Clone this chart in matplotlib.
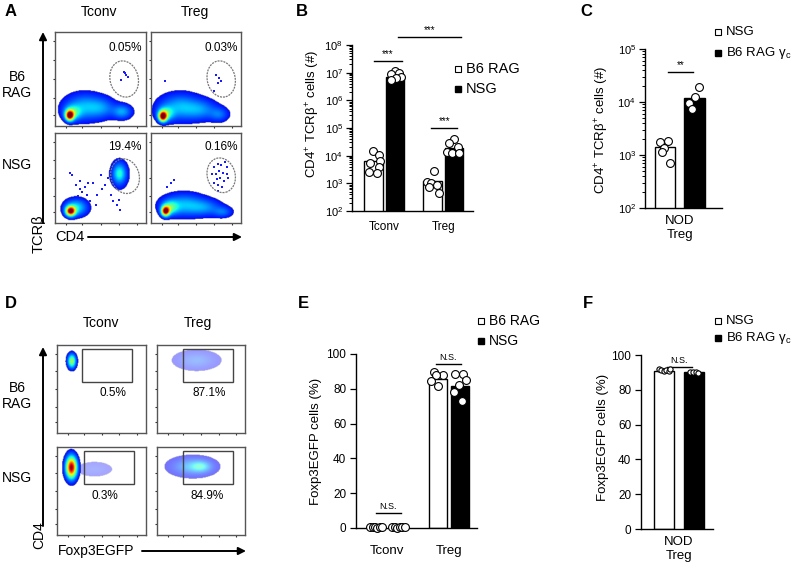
import numpy as np
import matplotlib
matplotlib.use("Agg")
import matplotlib.pyplot as plt
from matplotlib.patches import Ellipse, Rectangle
from matplotlib.ticker import LogLocator, NullFormatter, FuncFormatter

plt.rcParams["font.family"] = ["Liberation Sans", "DejaVu Sans"]
plt.rcParams["mathtext.fontset"] = "custom"
plt.rcParams["mathtext.rm"] = "Liberation Sans"
plt.rcParams["mathtext.it"] = "Liberation Sans:italic"
plt.rcParams["mathtext.bf"] = "Liberation Sans:bold"

# ---------------- data ----------------
# flow plots: populations as (x, y, sx, sy, weight) in relative plot units
A_RAG_TCONV = [(0.16, 0.11, 0.03, 0.035, 1.0), (0.19, 0.14, 0.06, 0.05, 0.3),
               (0.32, 0.20, 0.14, 0.09, 0.22), (0.52, 0.19, 0.10, 0.07, 0.13),
               (0.74, 0.15, 0.07, 0.05, 0.2)]
A_RAG_TREG = [(0.13, 0.10, 0.03, 0.035, 1.0), (0.16, 0.13, 0.06, 0.05, 0.3),
              (0.32, 0.20, 0.15, 0.09, 0.22), (0.56, 0.17, 0.12, 0.07, 0.15),
              (0.76, 0.12, 0.07, 0.05, 0.13)]
A_NSG_TCONV = [(0.17, 0.13, 0.035, 0.035, 1.0), (0.23, 0.17, 0.08, 0.06, 0.28),
               (0.71, 0.55, 0.045, 0.07, 0.25), (0.71, 0.54, 0.07, 0.11, 0.08)]
A_NSG_TREG = [(0.16, 0.13, 0.03, 0.035, 1.0), (0.21, 0.17, 0.06, 0.05, 0.3),
              (0.36, 0.20, 0.15, 0.08, 0.22), (0.60, 0.17, 0.12, 0.06, 0.15),
              (0.80, 0.12, 0.07, 0.04, 0.13)]
A_RAG_TCONV_EVENTS = [(0.77, 0.56), (0.78, 0.54), (0.73, 0.49), (0.80, 0.52), (0.76, 0.57)]
A_RAG_TREG_EVENTS = [(0.72, 0.54), (0.76, 0.51), (0.78, 0.48), (0.74, 0.46),
                     (0.70, 0.37), (0.16, 0.48)]
A_NSG_TCONV_EVENTS = [(0.30, 0.35), (0.35, 0.31), (0.23, 0.42), (0.42, 0.45), (0.50, 0.53),
                      (0.68, 0.20), (0.71, 0.15), (0.62, 0.31), (0.19, 0.53), (0.39, 0.24),
                      (0.46, 0.31), (0.28, 0.47), (0.55, 0.42), (0.17, 0.56), (0.58, 0.50),
                      (0.52, 0.38), (0.33, 0.40), (0.25, 0.30), (0.45, 0.20), (0.64, 0.25),
                      (0.66, 0.40), (0.60, 0.58), (0.70, 0.26), (0.36, 0.44), (0.27, 0.38)]
A_NSG_TREG_EVENTS = [(0.70, 0.62), (0.74, 0.66), (0.78, 0.64), (0.82, 0.68), (0.85, 0.62),
                     (0.72, 0.55), (0.76, 0.58), (0.80, 0.56), (0.84, 0.55), (0.73, 0.49),
                     (0.77, 0.50), (0.81, 0.47), (0.70, 0.45), (0.75, 0.42), (0.79, 0.40),
                     (0.68, 0.55), (0.86, 0.50), (0.74, 0.36), (0.22, 0.45), (0.26, 0.48),
                     (0.18, 0.40)]
A_PCT = ["0.05%", "0.03%", "19.4%", "0.16%"]

D_RAG_TCONV = [(0.165, 0.81, 0.03, 0.05, 0.5)]
D_RAG_TREG = [(0.45, 0.82, 0.14, 0.06, 0.12)]
D_NSG_TCONV = [(0.16, 0.77, 0.04, 0.08, 1.0)]
D_NSG_TCONV_FAINT = [(0.42, 0.75, 0.12, 0.05, 0.06)]
D_NSG_TREG = [(0.40, 0.78, 0.14, 0.06, 0.2), (0.50, 0.78, 0.07, 0.04, 0.2)]
D_PCT = ["0.5%", "87.1%", "0.3%", "84.9%"]

# B: CD4+ TCRb+ cells (#)
groups_b = ["Tconv", "Treg"]
b_rag_mean = [6500, 1200]
b_nsg_mean = [6.8e6, 1.9e4]
b_tconv_rag = [15100, 10500, 6600, 5250, 3800, 2630, 2290]
b_tconv_nsg = [1.17e7, 1.0e7, 8.9e6, 7.2e6, 6.3e6, 5.4e6]
b_treg_rag = [2880, 1150, 1050, 870, 760, 440]
b_treg_nsg = [38900, 29500, 21400, 13800, 12900, 12000]
jit_b_tconv_rag = [0.0, 0.09, 0.11, -0.06, 0.10, -0.07, 0.06]
jit_b_tconv_nsg = [0.0, 0.08, -0.06, 0.11, 0.03, -0.07]
jit_b_treg_rag = [0.02, -0.09, -0.02, 0.07, -0.06, 0.10]
jit_b_treg_nsg = [0.0, -0.08, 0.06, -0.11, -0.03, 0.08]

# C: NOD Treg counts
c_mean = [1400, 1.2e4]
c_nsg = [1740, 1860, 1380, 1120, 710]
c_b6gc = [19500, 12300, 9550, 7400]
jit_c_nsg = [-0.075, 0.047, -0.008, -0.042, 0.09]
jit_c_b6gc = [0.08, 0.0, -0.087, -0.036]

# E: Foxp3EGFP cells (%)
groups_e = ["Tconv", "Treg"]
e_rag_mean = [0.4, 85.8]
e_nsg_mean = [0.4, 81.4]
e_tconv_rag = [0.4, 0.3, 0.5, 0.2, 0.6, 0.3]
e_tconv_nsg = [0.3, 0.5, 0.2, 0.4, 0.3, 0.6]
e_treg_rag = [89.7, 88.1, 87.7, 84.3, 81.4]
e_treg_nsg = [88.5, 88.5, 85.2, 82.4, 78.2, 72.8]
jit_e_tconv = [-0.1, -0.06, -0.02, 0.02, 0.06, 0.1]
jit_e_treg_rag = [-0.06, 0.08, -0.02, -0.11, 0.005]
jit_e_treg_nsg = [-0.08, 0.06, 0.10, -0.02, -0.10, 0.035]

# F: NOD Treg Foxp3EGFP (%)
f_mean = [91.0, 90.1]
f_nsg = [92.2, 91.5, 91.0, 91.4, 90.8, 91.9]
f_b6gc = [90.5, 90.1, 90.3, 89.9]
jit_f_nsg = [-0.08, -0.04, 0.0, 0.04, 0.08, 0.1]
jit_f_b6gc = [-0.06, -0.02, 0.03, 0.07]

# ---------------- layout helpers ----------------
W, H = 798, 568
fig = plt.figure(figsize=(W / 100, H / 100), dpi=100)


def px_axes(x0, y0, x1, y1):
    return fig.add_axes([x0 / W, 1 - y1 / H, (x1 - x0) / W, (y1 - y0) / H])


def density(comps, n=150):
    g = np.linspace(0, 1, n)
    X, Y = np.meshgrid(g, g)
    Z = np.zeros_like(X)
    for cx, cy, sx, sy, w in comps:
        Z += w * np.exp(-0.5 * (((X - cx) / sx) ** 2 + ((Y - cy) / sy) ** 2))
    return Z


def show_density(ax, comps, thr, alpha):
    Z = np.ma.masked_less(density(comps), thr)
    ax.imshow(Z, extent=(0, 1, 0, 1), origin="lower", cmap="jet", vmin=-0.12, vmax=1,
              interpolation="bilinear", aspect="auto", alpha=alpha)


def flow_plot(box, comps, events, gate, pct, pct_xy, thr=0.03, alpha=1.0, faint=None):
    ax = px_axes(*box)
    if faint:
        show_density(ax, faint, 0.015, 0.35)
    show_density(ax, comps, thr, alpha)
    if events:
        ex, ey = zip(*events)
        ax.scatter(ex, ey, s=3, marker="s", color="#1a1aff", lw=0)
    ax.add_patch(gate)
    ax.text(pct_xy[0], pct_xy[1], pct, ha="center", va="center", fontsize=8.5)
    ax.set_xlim(0, 1)
    ax.set_ylim(0, 1)
    ax.set_xticks([0.12, 0.3, 0.5, 0.7, 0.9])
    ax.set_yticks([0.12, 0.3, 0.5, 0.7, 0.9])
    ax.set_xticklabels([])
    ax.set_yticklabels([])
    ax.tick_params(length=1.5, width=0.8, color="#333")
    for s in ax.spines.values():
        s.set_color("#555")
        s.set_linewidth(1.0)
    return ax


def ell(cx, cy):
    return Ellipse((cx, cy), 0.31, 0.39, angle=15, fill=False, ec="#777",
                   lw=0.9, ls=(0, (1.6, 0.8)))


def rect(x0, x1, y0=0.58, y1=0.955):
    return Rectangle((x0, y0), x1 - x0, y1 - y0, fill=False, ec="#444", lw=1.0)


# ---------------- panel A ----------------
flow_plot((55, 32, 146, 126), A_RAG_TCONV, A_RAG_TCONV_EVENTS, ell(0.76, 0.50), A_PCT[0], (0.77, 0.83))
flow_plot((151, 32, 241, 126), A_RAG_TREG, A_RAG_TREG_EVENTS, ell(0.78, 0.50), A_PCT[1], (0.78, 0.83))
flow_plot((55, 133, 146, 223), A_NSG_TCONV, A_NSG_TCONV_EVENTS, ell(0.77, 0.52), A_PCT[2], (0.77, 0.84))
flow_plot((151, 133, 241, 223), A_NSG_TREG, A_NSG_TREG_EVENTS, ell(0.78, 0.53), A_PCT[3], (0.78, 0.84))

# ---------------- panel D ----------------
flow_plot((57, 345, 146, 433), D_RAG_TCONV, None, rect(0.285, 0.84), D_PCT[0], (0.63, 0.46), thr=0.03)
flow_plot((157, 345, 245, 433), D_RAG_TREG, None, rect(0.30, 0.86), D_PCT[1], (0.59, 0.46),
          thr=0.015, alpha=0.4)
flow_plot((57, 447, 146, 535), D_NSG_TCONV, None, rect(0.30, 0.86), D_PCT[2], (0.54, 0.44),
          thr=0.03, faint=D_NSG_TCONV_FAINT)
flow_plot((157, 447, 245, 535), D_NSG_TREG, None, rect(0.29, 0.86), D_PCT[3], (0.57, 0.44),
          thr=0.015, alpha=0.55)


# ---------------- bar panels ----------------
def style_bar_axes(ax):
    for s in ("top", "right"):
        ax.spines[s].set_visible(False)
    for s in ("left", "bottom"):
        ax.spines[s].set_linewidth(1.0)
    ax.tick_params(axis="x", length=0, labelsize=8.5)
    ax.tick_params(axis="y", which="major", length=4, width=0.9, labelsize=8, pad=2.5)
    ax.tick_params(axis="y", which="minor", length=2.5, width=0.7)


def dots(ax, x0, vals, jit, s=32):
    ax.scatter([x0 + j for j in jit], vals, s=s, facecolor="white", edgecolor="black",
               lw=0.8, zorder=3, clip_on=False)


def sig(ax, x0, x1, y, label, fs=7, dy=0):
    ax.plot([x0, x1], [y, y], color="black", lw=1.0, clip_on=False)
    ax.annotate(label, ((x0 + x1) / 2, y), xytext=(0, 1.5 + dy), textcoords="offset points",
                ha="center", va="bottom", fontsize=fs, annotation_clip=False)


log_fmt = FuncFormatter(lambda v, p: r"$10^{%d}$" % round(np.log10(v)))

# B
axb = px_axes(352, 45, 473, 211)
xb = np.arange(len(groups_b))
off, bw = 0.18, 0.31
axb.bar(xb - off, b_rag_mean, bw, color="white", edgecolor="black", lw=1.0, zorder=2)
axb.bar(xb + off, b_nsg_mean, bw, color="black", edgecolor="black", lw=1.0, zorder=2)
dots(axb, xb[0] - off, b_tconv_rag, jit_b_tconv_rag)
dots(axb, xb[0] + off, b_tconv_nsg, jit_b_tconv_nsg)
dots(axb, xb[1] - off, b_treg_rag, jit_b_treg_rag)
dots(axb, xb[1] + off, b_treg_nsg, jit_b_treg_nsg)
axb.set_yscale("log")
axb.set_ylim(1e2, 1e8)
axb.set_xlim(-0.54, 1.5)
axb.yaxis.set_major_locator(LogLocator(base=10, numticks=10))
axb.yaxis.set_minor_locator(LogLocator(base=10, subs=np.arange(2, 10), numticks=10))
axb.yaxis.set_major_formatter(log_fmt)
axb.yaxis.set_minor_formatter(NullFormatter())
axb.set_xticks(xb)
axb.set_xticklabels(groups_b)
style_bar_axes(axb)
axb.tick_params(axis="x", pad=7)
sig(axb, -0.17, 0.30, 2.6e7, "***")
sig(axb, 0.80, 1.23, 1.0e5, "***")
sig(axb, 0.23, 1.30, 1.9e8, "***")

# C
axc = px_axes(645, 49, 722, 208)
axc.bar([-0.25], [c_mean[0]], 0.33, color="white", edgecolor="black", lw=1.0, zorder=2)
axc.bar([0.25], [c_mean[1]], 0.35, color="black", edgecolor="black", lw=1.0, zorder=2)
dots(axc, -0.25, c_nsg, jit_c_nsg)
dots(axc, 0.25, c_b6gc, jit_c_b6gc)
axc.set_yscale("log")
axc.set_ylim(1e2, 1e5)
axc.set_xlim(-0.58, 0.71)
axc.yaxis.set_major_locator(LogLocator(base=10, numticks=10))
axc.yaxis.set_minor_locator(LogLocator(base=10, subs=np.arange(2, 10), numticks=10))
axc.yaxis.set_major_formatter(log_fmt)
axc.yaxis.set_minor_formatter(NullFormatter())
axc.set_xticks([0])
axc.set_xticklabels(["NOD\nTreg"])
style_bar_axes(axc)
axc.tick_params(axis="x", pad=5, labelsize=9.5)
sig(axc, -0.19, 0.22, 3.7e4, "**")

# E
axe = px_axes(356, 354, 477, 528)
xe = np.arange(len(groups_e))
off_e, bw_e = 0.18, 0.29
axe.bar(xe - off_e, e_rag_mean, bw_e, color="white", edgecolor="black", lw=1.0, zorder=2)
axe.bar(xe + off_e, e_nsg_mean, bw_e, color="black", edgecolor="black", lw=1.0, zorder=2)
dots(axe, xe[0] - off_e, e_tconv_rag, jit_e_tconv)
dots(axe, xe[0] + off_e, e_tconv_nsg, jit_e_tconv)
dots(axe, xe[1] - off_e, e_treg_rag, jit_e_treg_rag)
dots(axe, xe[1] + off_e, e_treg_nsg, jit_e_treg_nsg)
axe.set_ylim(0, 100)
axe.set_xlim(-0.51, 1.46)
axe.set_yticks(np.arange(0, 101, 20))
axe.set_xticks(xe)
axe.set_xticklabels(groups_e)
style_bar_axes(axe)
axe.tick_params(axis="x", pad=12, labelsize=9.5)
axe.tick_params(axis="y", labelsize=8.5, length=4.5)
sig(axe, -0.19, 0.22, 8.8, "N.S.", fs=6.5)
sig(axe, 0.79, 1.2, 94.4, "N.S.", fs=6.5)

# F
axf = px_axes(641, 355, 713, 529)
axf.bar([-0.25], [f_mean[0]], 0.33, color="white", edgecolor="black", lw=1.0, zorder=2)
axf.bar([0.25], [f_mean[1]], 0.33, color="black", edgecolor="black", lw=1.0, zorder=2)
dots(axf, -0.25, f_nsg, jit_f_nsg, s=14)
dots(axf, 0.25, f_b6gc, jit_f_b6gc, s=14)
axf.set_ylim(0, 100)
axf.set_xlim(-0.63, 0.57)
axf.set_yticks(np.arange(0, 101, 20))
axf.set_xticks([0])
axf.set_xticklabels(["NOD\nTreg"])
style_bar_axes(axf)
axf.tick_params(axis="x", pad=5, labelsize=9.5)
axf.tick_params(axis="y", labelsize=8.5, length=4.5)
sig(axf, -0.2, 0.22, 93.3, "N.S.", fs=6.5)

# ---------------- overlay: labels, arrows, legends ----------------
ov = fig.add_axes([0, 0, 1, 1])
ov.set_xlim(0, W)
ov.set_ylim(H, 0)
ov.axis("off")
ov.patch.set_alpha(0)

for lab, x, y in [("A", 11, 12), ("B", 302, 12), ("C", 586, 12),
                  ("D", 11, 304), ("E", 303, 304), ("F", 588, 304)]:
    ov.text(x, y, lab, fontsize=12, fontweight="bold", ha="center", va="center")

# headers / row labels for flow panels
for x, y, t in [(99, 12, "Tconv"), (195, 12, "Treg"), (101, 323, "Tconv"), (198, 323, "Treg")]:
    ov.text(x, y, t, ha="center", va="center", fontsize=10)
for y, t in [(85, "B6\nRAG"), (165, "NSG"), (396, "B6\nRAG"), (478, "NSG")]:
    ov.text(17, y, t, ha="center", va="center", fontsize=10, linespacing=1.15)

arrow = dict(arrowstyle="-|>", lw=1.4, color="black", mutation_scale=11, shrinkA=0, shrinkB=0)
ov.annotate("", xy=(43, 32), xytext=(43, 223), arrowprops=arrow)
ov.annotate("", xy=(242, 237), xytext=(88, 237), arrowprops=arrow)
ov.annotate("", xy=(43, 347), xytext=(43, 526), arrowprops=arrow)
ov.annotate("", xy=(246, 551), xytext=(142, 551), arrowprops=arrow)
ov.text(39, 234, "TCRβ", rotation=90, ha="center", va="center", fontsize=10.5)
ov.text(70, 237, "CD4", ha="center", va="center", fontsize=10.5)
ov.text(39, 535, "CD4", rotation=90, ha="center", va="center", fontsize=10)
ov.text(96, 551, "Foxp3EGFP", ha="center", va="center", fontsize=10)

# y labels for bar panels
ov.text(313, 114, r"CD4$^{+}$ TCRβ$^{+}$ cells (#)", rotation=90, ha="center", va="center", fontsize=9.5)
ov.text(602, 130, r"CD4$^{+}$ TCRβ$^{+}$ cells (#)", rotation=90, ha="center", va="center", fontsize=9.5)
ov.text(316, 441, "Foxp3EGFP cells (%)", rotation=90, ha="center", va="center", fontsize=9.5)
ov.text(603, 437, "Foxp3EGFP cells (%)", rotation=90, ha="center", va="center", fontsize=9.5)


def legend(x, y0, y1, names, fs=10):
    ov.plot([x], [y0], marker="s", ms=5, mfc="white", mec="black", mew=0.8, ls="none")
    ov.plot([x], [y1], marker="s", ms=5, mfc="black", mec="black", ls="none")
    ov.text(x + 8, y0, names[0], ha="left", va="center", fontsize=fs)
    ov.text(x + 8, y1, names[1], ha="left", va="center", fontsize=fs)


legend(458, 69, 89, ["B6 RAG", "NSG"], fs=10.5)
legend(718, 32, 53, ["NSG", r"B6 RAG γ$_\mathrm{c}$"], fs=9.5)
legend(481, 321, 341, ["B6 RAG", "NSG"], fs=10)
legend(718, 321, 338, ["NSG", r"B6 RAG γ$_\mathrm{c}$"], fs=9.5)

fig.savefig("out.png", dpi=100)
